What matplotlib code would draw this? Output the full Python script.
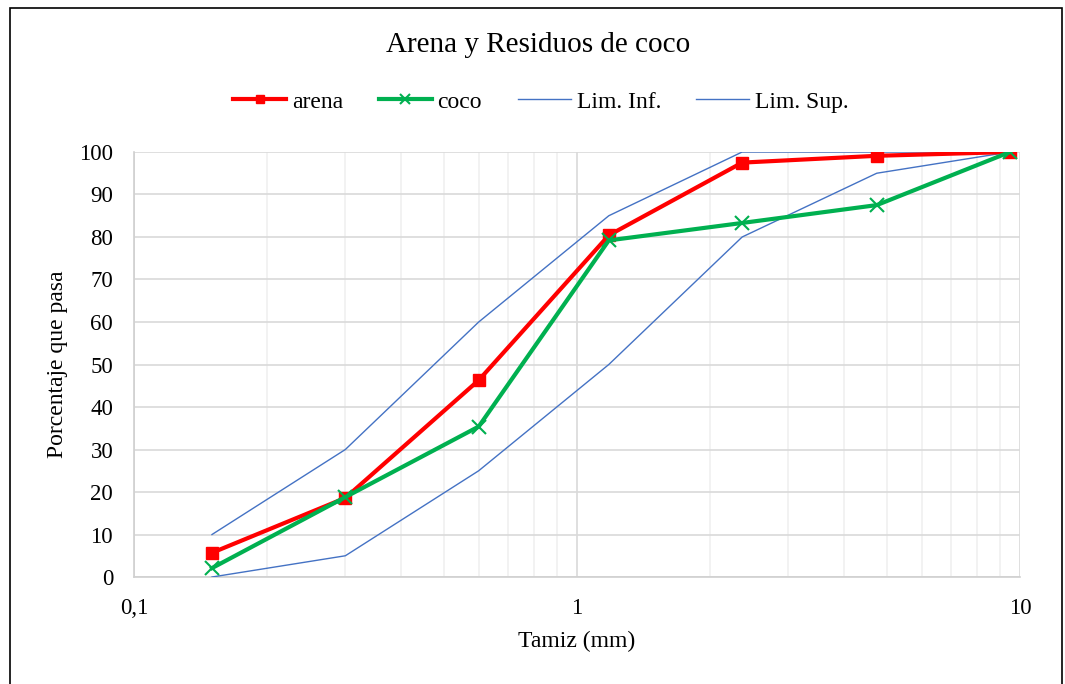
import matplotlib
matplotlib.use("Agg")
import matplotlib.pyplot as plt
from matplotlib.ticker import FixedLocator, NullFormatter, LogLocator

plt.rcParams['font.family'] = ['Liberation Serif', 'DejaVu Serif']

tamiz = [0.15, 0.3, 0.6, 1.18, 2.36, 4.75, 9.5]
arena = [5.7, 18.6, 46.3, 80.4, 97.5, 99.1, 100]
coco = [2.1, 18.8, 35.4, 79.2, 83.3, 87.5, 100]
lim_inf = [0, 5, 25, 50, 80, 95, 100]
lim_sup = [10, 30, 60, 85, 100, 100, 100]

fig = plt.figure(figsize=(10.65, 6.84), dpi=100)
ax = fig.add_axes([0.1258, 0.1564, 0.8319, 0.6214])

ax.plot(tamiz, arena, color='#ff0000', lw=3, marker='s', ms=8, label='arena', zorder=4)
ax.plot(tamiz, coco, color='#00b050', lw=3, marker='x', ms=10, mew=1.5, label='coco', zorder=4)
ax.plot(tamiz, lim_inf, color='#4472c4', lw=1, label='Lim. Inf.', zorder=3)
ax.plot(tamiz, lim_sup, color='#4472c4', lw=1, label='Lim. Sup.', zorder=3)

ax.set_xscale('log')
ax.set_xlim(0.1, 10)
ax.set_ylim(0, 100)
ax.set_yticks(range(0, 101, 10))
ax.xaxis.set_major_locator(FixedLocator([0.1, 1, 10]))
ax.set_xticklabels(['0,1', '1', '10'])
ax.xaxis.set_minor_locator(LogLocator(base=10, subs=range(2, 10)))
ax.xaxis.set_minor_formatter(NullFormatter())

ax.grid(True, which='major', color='#d9d9d9', lw=1.2)
ax.grid(True, which='minor', axis='x', color='#f0f0f0', lw=1.2)
ax.set_axisbelow(True)
for s in ['top', 'right']:
    ax.spines[s].set_visible(False)
for s in ['left', 'bottom']:
    ax.spines[s].set_color('#d0d0d0')
    ax.spines[s].set_linewidth(1.2)
ax.tick_params(which='both', length=0, labelsize=16.5)
ax.tick_params(axis='y', pad=15)
ax.tick_params(axis='x', pad=15)

ax.set_xlabel('Tamiz (mm)', fontsize=17, labelpad=9)
ax.set_ylabel('Porcentaje que pasa', fontsize=17, labelpad=8)

fig.text(0.505, 0.934, 'Arena y Residuos de coco', ha='center', va='center', fontsize=21)
fig.legend(loc='center', bbox_to_anchor=(0.508, 0.851), ncol=4, frameon=False,
           fontsize=17, handlelength=2.25, columnspacing=1.5, handletextpad=0.25,
           markerscale=0.75)

border = plt.Rectangle((0.0095, -0.01), 0.988, 0.9985, transform=fig.transFigure,
                       fill=False, edgecolor='black', lw=1.2)
fig.patches.append(border)

fig.savefig('out.png', dpi=100)
